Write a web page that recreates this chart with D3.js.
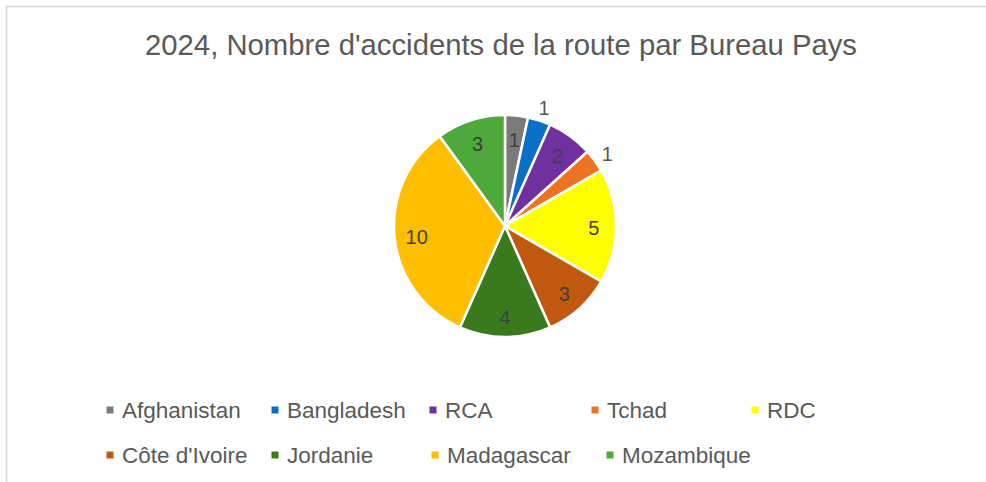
<!DOCTYPE html>
<html><head><meta charset="utf-8">
<script src="https://cdn.jsdelivr.net/npm/d3@7"></script>
<style>html,body{margin:0;padding:0;background:#fff;}svg{display:block;}</style>
</head><body>
<svg id="c" width="986" height="482"></svg>
<script>
const categories = ["Afghanistan","Bangladesh","RCA","Tchad","RDC","Côte d'Ivoire","Jordanie","Madagascar","Mozambique"];
const values = [1,1,2,1,5,3,4,10,3];
const colors = ["#7a7a7a","#0a6fc6","#7030a0","#ed7322","#ffff00","#c0580f","#3a7a1f","#ffbe00","#4ea83a"];
const outsideLabels = ["Bangladesh","Tchad"];
const title = "2024, Nombre d'accidents de la route par Bureau Pays";

const svg = d3.select("#c");
// frame
svg.append("rect").attr("x",6.5).attr("y",6.5).attr("width",1200).attr("height",1200)
  .attr("fill","none").attr("stroke","#d4d4d4").attr("stroke-width",1.5);

svg.append("text").attr("x",501).attr("y",55).attr("text-anchor","middle")
  .attr("font-family","Liberation Sans, Arial, sans-serif").attr("font-size",30)
  .attr("textLength",712).attr("lengthAdjust","spacingAndGlyphs")
  .attr("fill","#595959").text(title);

const cx = 505, cy = 226, R = 111;
const data = categories.map((c,i)=>({cat:c,value:values[i],color:colors[i]}));
const pie = d3.pie().sort(null).value(d=>d.value);
const arcs = pie(data);
const arc = d3.arc().innerRadius(0).outerRadius(R);
const g = svg.append("g").attr("transform",`translate(${cx},${cy})`);
g.selectAll("path").data(arcs).join("path")
  .attr("d",arc).attr("fill",d=>d.data.color)
  .attr("stroke","#fff").attr("stroke-width",2.5).attr("stroke-linejoin","round");

const inArc = d3.arc().innerRadius(R*0.8).outerRadius(R*0.8);
const outArc = d3.arc().innerRadius(R*1.14).outerRadius(R*1.14);
g.selectAll("text.lab").data(arcs).join("text").attr("class","lab")
  .attr("transform",d=>{
    const p = outsideLabels.includes(d.data.cat) ? outArc.centroid(d) : inArc.centroid(d);
    return `translate(${p[0]},${p[1]+2})`;
  })
  .attr("text-anchor","middle").attr("dy","0.36em")
  .attr("font-family","Liberation Sans, Arial, sans-serif").attr("font-size",20)
  .attr("fill",d=>outsideLabels.includes(d.data.cat)?"#595959":"#404040")
  .text(d=>d.value);

// legend
const legendPos = [[110,410],[275,410],[433,410],[595,410],[755,410],
                   [110,455],[275,455],[435,455],[610,455]];
const lg = svg.append("g");
data.forEach((d,i)=>{
  const [x,y] = legendPos[i];
  lg.append("rect").attr("x",x-3.5).attr("y",y-3.5).attr("width",7).attr("height",7).attr("fill",d.color);
  lg.append("text").attr("x",x+12).attr("y",y).attr("dy","0.36em")
    .attr("font-family","Liberation Sans, Arial, sans-serif").attr("font-size",22.5)
    .attr("fill","#595959").text(d.cat);
});
</script>
</body></html>
